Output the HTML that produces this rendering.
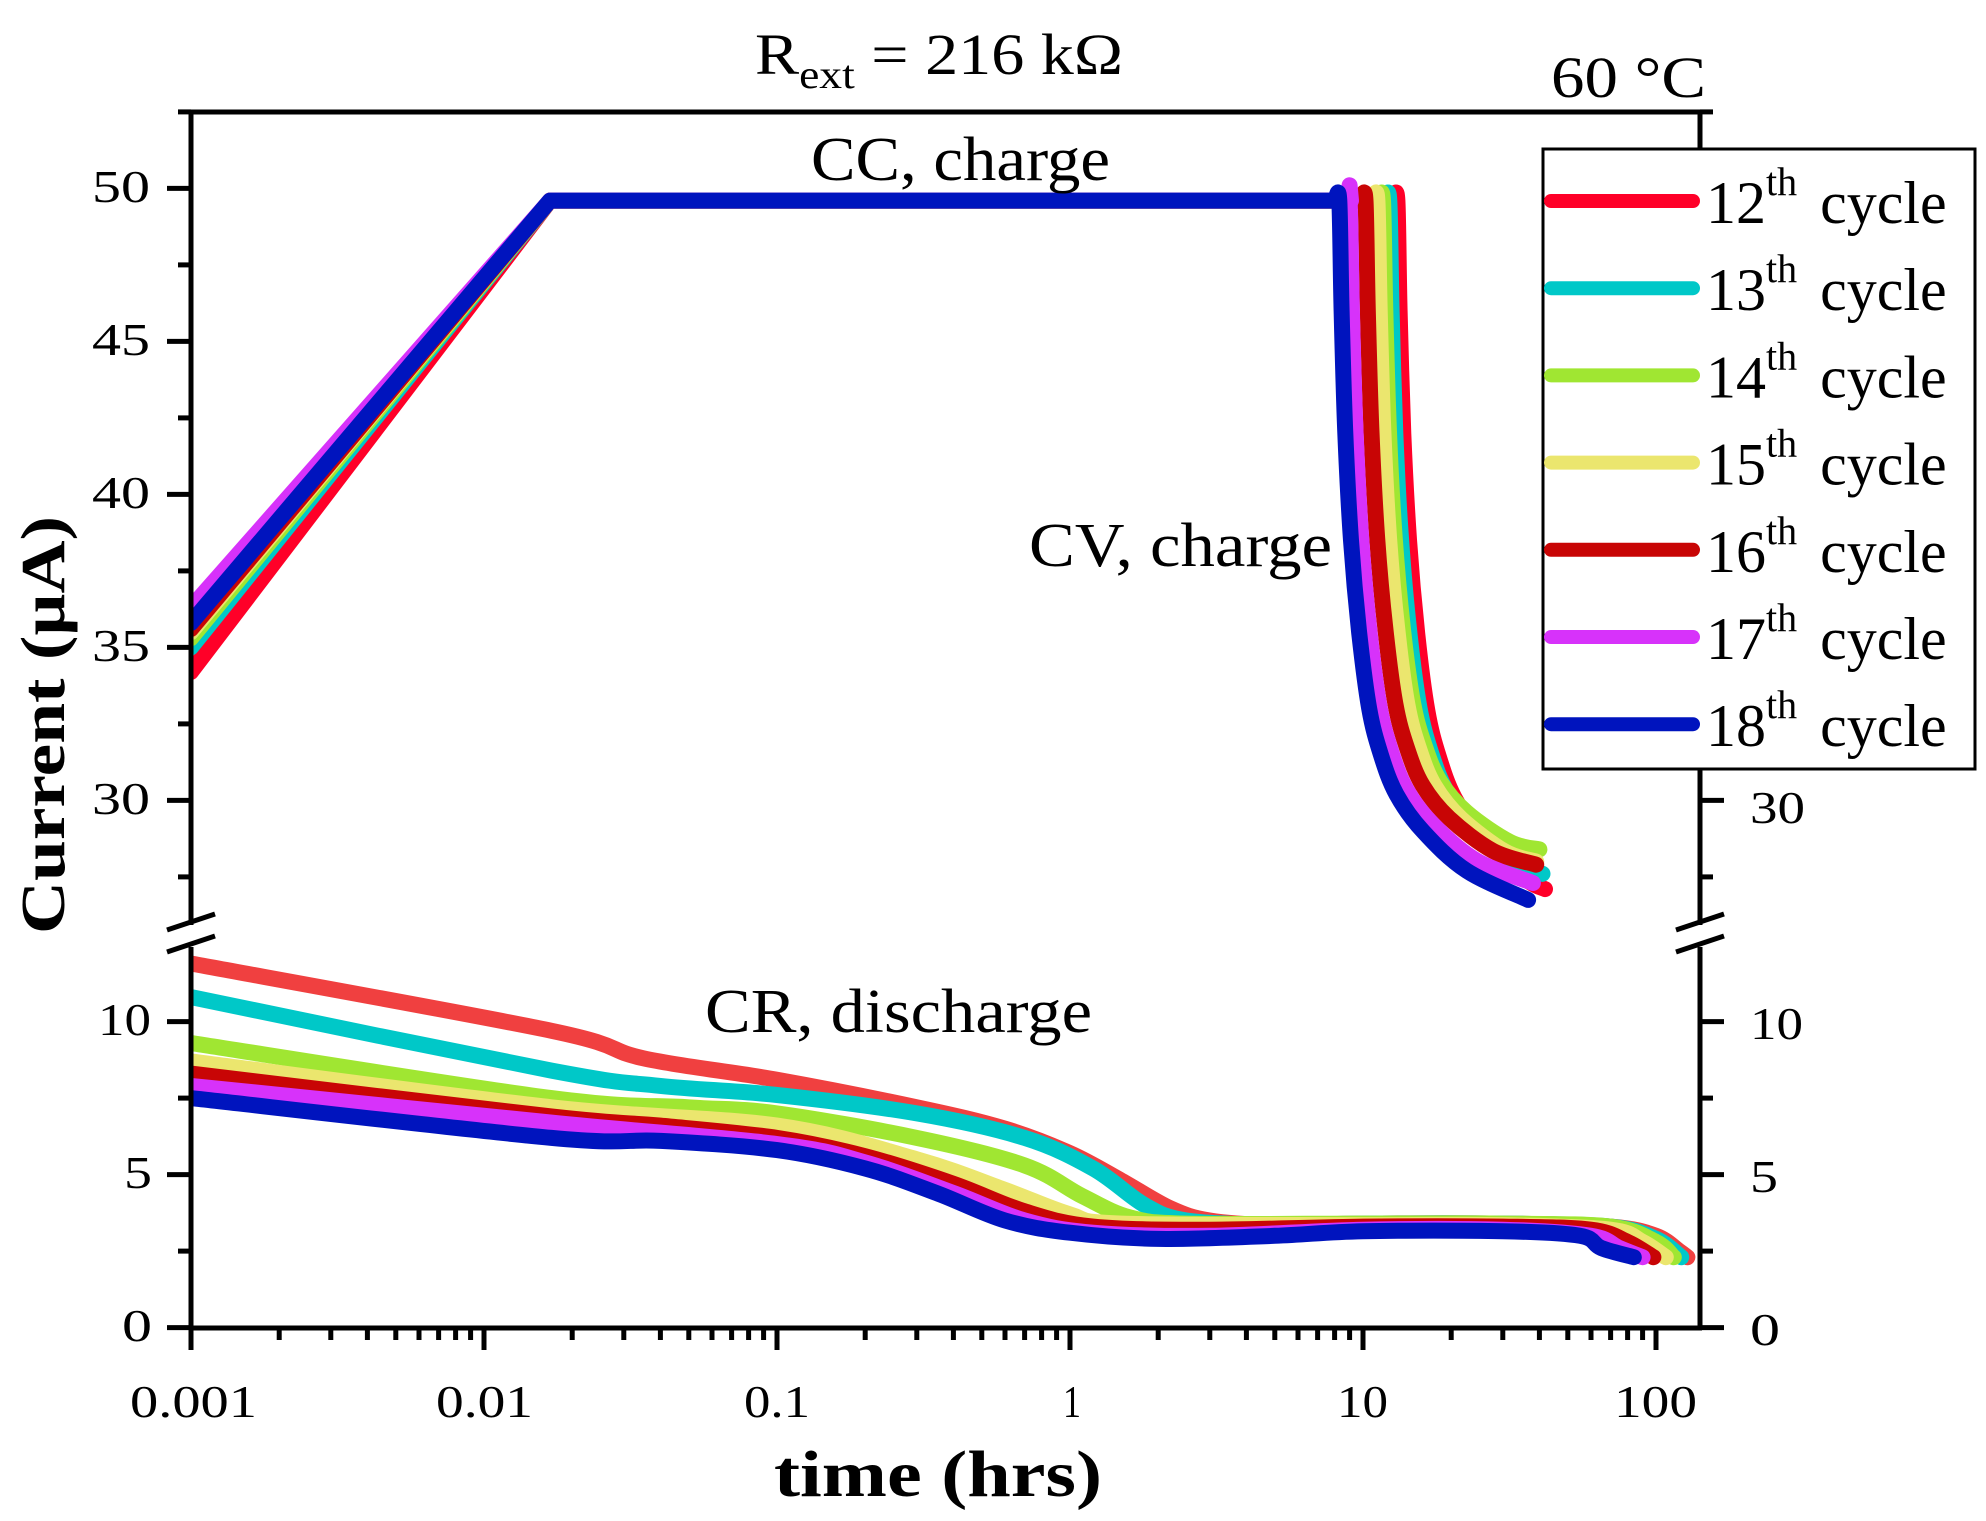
<!DOCTYPE html>
<html><head><meta charset="utf-8"><style>
html,body{margin:0;padding:0;background:#fff;}
svg{display:block;}
text{font-family:"Liberation Serif",serif;fill:#000;}
</style></head><body>
<svg id="s" width="1986" height="1521" viewBox="0 0 1986 1521" xmlns="http://www.w3.org/2000/svg">
<defs>
<clipPath id="cu"><rect x="191" y="112" width="1509" height="813"/></clipPath>
<clipPath id="cl"><rect x="191" y="947" width="1509" height="381"/></clipPath>
</defs>
<g id="curves"></g>
<g stroke="#000" stroke-width="5" fill="none">
<line x1="189" y1="112" x2="1702" y2="112"/>
<line x1="191" y1="110" x2="191" y2="925"/>
<line x1="191" y1="947" x2="191" y2="1330"/>
<line x1="1700" y1="110" x2="1700" y2="925"/>
<line x1="1700" y1="947" x2="1700" y2="1330"/>
<line x1="189" y1="1328" x2="1702" y2="1328"/>
<line x1="167" y1="930" x2="215" y2="914"/>
<line x1="167" y1="952" x2="215" y2="936"/>
<line x1="1676" y1="930" x2="1724" y2="914"/>
<line x1="1676" y1="952" x2="1724" y2="936"/>
</g>
<g id="ticks" stroke="#000" stroke-width="5"></g>
<g font-size="46">
<text x="92" y="202" textLength="58" lengthAdjust="spacingAndGlyphs">50</text>
<text x="92" y="355" textLength="58" lengthAdjust="spacingAndGlyphs">45</text>
<text x="92" y="508" textLength="58" lengthAdjust="spacingAndGlyphs">40</text>
<text x="92" y="661" textLength="58" lengthAdjust="spacingAndGlyphs">35</text>
<text x="92" y="814" textLength="58" lengthAdjust="spacingAndGlyphs">30</text>
<text x="98" y="1035" textLength="53" lengthAdjust="spacingAndGlyphs">10</text>
<text x="124" y="1188" textLength="28" lengthAdjust="spacingAndGlyphs">5</text>
<text x="122" y="1341" textLength="30" lengthAdjust="spacingAndGlyphs">0</text>
<text x="1750" y="823" textLength="55" lengthAdjust="spacingAndGlyphs">30</text>
<text x="1750" y="1039" textLength="53" lengthAdjust="spacingAndGlyphs">10</text>
<text x="1750" y="1192" textLength="28" lengthAdjust="spacingAndGlyphs">5</text>
<text x="1750" y="1345" textLength="30" lengthAdjust="spacingAndGlyphs">0</text>
</g>
<g font-size="46">
<text x="130" y="1417" textLength="127" lengthAdjust="spacingAndGlyphs">0.001</text>
<text x="436" y="1417" textLength="97" lengthAdjust="spacingAndGlyphs">0.01</text>
<text x="744" y="1417" textLength="66" lengthAdjust="spacingAndGlyphs">0.1</text>
<text x="1063" y="1417" textLength="18" lengthAdjust="spacingAndGlyphs">1</text>
<text x="1337" y="1417" textLength="51" lengthAdjust="spacingAndGlyphs">10</text>
<text x="1614" y="1417" textLength="83" lengthAdjust="spacingAndGlyphs">100</text>
</g>
<text x="774" y="1496" font-size="66" font-weight="bold" textLength="328" lengthAdjust="spacingAndGlyphs">time (hrs)</text>
<text transform="translate(64,725) rotate(-90)" font-size="62" font-weight="bold" text-anchor="middle" textLength="418" lengthAdjust="spacingAndGlyphs">Current (µA)</text>
<text x="755" y="74" font-size="58" textLength="368" lengthAdjust="spacingAndGlyphs">R<tspan font-size="40" dy="14">ext</tspan><tspan dy="-14"> = 216 kΩ</tspan></text>
<text x="1551" y="97" font-size="58" textLength="155" lengthAdjust="spacingAndGlyphs">60 °C</text>
<g font-size="62">
<text x="811" y="180" textLength="299" lengthAdjust="spacingAndGlyphs">CC, charge</text>
<text x="1029" y="566" textLength="303" lengthAdjust="spacingAndGlyphs">CV, charge</text>
<text x="705" y="1032" textLength="387" lengthAdjust="spacingAndGlyphs">CR, discharge</text>
</g>
<rect x="1543" y="149" width="432" height="620" fill="#fff" stroke="#000" stroke-width="3"/>
<g id="legend"></g>
</svg>
<script>
var NS="http://www.w3.org/2000/svg";
function X(t){return 191+293*(Math.log10(t)+3);}
function YU(v){return 188.4+(50-v)*30.6;}
function YL(v){return 1327.6-v*30.6;}
function el(tag,a,p){var e=document.createElementNS(NS,tag);for(var k in a)e.setAttribute(k,a[k]);p.appendChild(e);return e;}
var ticks=document.getElementById('ticks');
function yt(y,major){el('line',{x1:major?167:178,y1:y,x2:191,y2:y},ticks);el('line',{x1:1700,y1:y,x2:major?1724:1713,y2:y},ticks);}
[50,45,40,35,30].forEach(function(v){yt(YU(v),true);});
[52.5,47.5,42.5,37.5,32.5,27.5].forEach(function(v){yt(YU(v),false);});
[10,5,0].forEach(function(v){yt(YL(v),true);});
[12.5,7.5,2.5].forEach(function(v){if(YL(v)>947)yt(YL(v),false);});
for(var d=-3;d<=2;d++){var b=Math.pow(10,d);
 el('line',{x1:X(b),y1:1328,x2:X(b),y2:1350},ticks);
 for(var m=2;m<=9;m++){var t=m*b;if(X(t)<1700)el('line',{x1:X(t),y1:1328,x2:X(t),y2:1340},ticks);}}
var cols=["#ff0028","#00c8c8","#a0e632","#ebe66e","#c80505","#d732fa","#0014be"];
var dcols=["#f04040","#00c8c8","#a0e632","#ebe66e","#c80505","#d732fa","#0014be"];
var g=document.getElementById('curves');
var gu=el('g',{'clip-path':'url(#cu)'},g), gl=el('g',{'clip-path':'url(#cl)'},g);
function draw(pts,Y,col,p,smooth){
 var P=pts.map(function(q){return [X(q[0]),Y(q[1])];});
 var d="M"+P[0][0].toFixed(1)+","+P[0][1].toFixed(1);
 for(var i=0;i<P.length-1;i++){
  var p0=P[Math.max(0,i-1)],p1=P[i],p2=P[i+1],p3=P[Math.min(P.length-1,i+2)];
  if(!smooth){d+=" L"+p2[0].toFixed(1)+","+p2[1].toFixed(1);continue;}
  var c1=[p1[0]+(p2[0]-p0[0])/6,p1[1]+(p2[1]-p0[1])/6],c2=[p2[0]-(p3[0]-p1[0])/6,p2[1]-(p3[1]-p1[1])/6];
  d+=" C"+c1[0].toFixed(1)+","+c1[1].toFixed(1)+" "+c2[0].toFixed(1)+","+c2[1].toFixed(1)+" "+p2[0].toFixed(1)+","+p2[1].toFixed(1);
 }
 el('path',{d:d,fill:'none',stroke:col,'stroke-width':16,'stroke-linejoin':'round','stroke-linecap':'round'},p);}
var blue=[[8.3,49.6],[8.45,46],[8.7,42],[9.1,38.5],[9.7,35.5],[10.5,33],[11.5,31.5],[13,30.2],[16,29],[22.6,27.7],[36.6,26.75]];
var start=[34.2,35.0,35.3,35.5,35.6,36.3,35.8];
var t0=[13.1,12.3,11.7,11.2,10.2,9.0,8.3];
var te=[[41.8,27.1],[41,27.6],[40,28.4],[39,28.0],[39,27.9],[38,27.3],[36.6,26.75]];
for(var c=0;c<7;c++){
 var r=t0[c]/8.3;
 var prof=[];
 for(var i=0;i<blue.length;i++){var t=blue[i][0]*r;if(t<te[c][0])prof.push([t,blue[i][1]]);}
 var tb=te[c][0]/r,vb=26.75;
 for(var i=0;i<blue.length-1;i++){if(tb>=blue[i][0]&&tb<=blue[i+1][0]){var f=(Math.log(tb)-Math.log(blue[i][0]))/(Math.log(blue[i+1][0])-Math.log(blue[i][0]));vb=blue[i][1]+f*(blue[i+1][1]-blue[i][1]);}}
 prof.push([te[c][0],vb]);
 var off=te[c][1]-vb, ls=Math.log(prof[0][0]), le=Math.log(te[c][0]);
 var cv=[[prof[0][0]*0.97,49.6]];
 prof.forEach(function(q){var f=(Math.log(q[0])-ls)/(le-ls);cv.push([q[0],q[1]+off*f]);});
 draw([[0.001,start[c]],[0.0168,49.6],[prof[0][0]*0.97,49.6]],YU,cols[c],gu,false);
 draw(cv,YU,cols[c],gu,true);
 if(c==5)draw([[8.9,49.6],[9.0,50.1],[9.1,49.6]],YU,cols[c],gu,false);
}
var D=[
[[0.001,11.9],[0.017,9.7],[0.035,8.8],[0.1,8.1],[0.3,7.2],[0.6,6.5],[1,5.7],[1.5,4.8],[2.2,3.9],[3,3.5],[5,3.35],[10,3.4],[30,3.4],[70,3.3],[100,3.0],[120,2.5],[128,2.3]],
[[0.001,10.8],[0.017,8.4],[0.04,7.9],[0.1,7.6],[0.3,7.0],[0.7,6.2],[1.2,5.2],[1.8,4.0],[2.5,3.5],[5,3.35],[10,3.4],[30,3.4],[70,3.3],[100,2.9],[122,2.3]],
[[0.001,9.3],[0.017,7.5],[0.05,7.2],[0.1,7.0],[0.3,6.2],[0.7,5.3],[1.1,4.3],[1.6,3.6],[2.5,3.4],[10,3.4],[30,3.4],[70,3.3],[100,2.8],[115,2.3]],
[[0.001,8.7],[0.017,7.2],[0.1,6.6],[0.3,5.5],[0.6,4.5],[1,3.7],[1.5,3.4],[10,3.35],[30,3.35],[70,3.2],[90,2.8],[108,2.3]],
[[0.001,8.3],[0.017,6.9],[0.04,6.6],[0.1,6.2],[0.2,5.6],[0.4,4.7],[0.7,3.8],[1.2,3.3],[3,3.2],[10,3.3],[30,3.3],[60,3.2],[80,2.8],[98,2.3]],
[[0.001,7.9],[0.017,6.7],[0.1,6.0],[0.2,5.4],[0.4,4.4],[0.7,3.5],[1.2,3.1],[3,3.0],[10,3.2],[30,3.2],[60,3.0],[75,2.6],[90,2.3]],
[[0.001,7.5],[0.017,6.2],[0.04,6.1],[0.1,5.8],[0.2,5.2],[0.35,4.4],[0.6,3.5],[1,3.1],[2,2.9],[5,3.0],[10,3.15],[30,3.15],[55,3.0],[65,2.6],[84,2.3]]];
for(var c=0;c<7;c++)draw(D[c],YL,dcols[c],gl,true);
var lg=document.getElementById('legend');
var nums=["12","13","14","15","16","17","18"];
for(var c=0;c<7;c++){var y=201+c*87.2;
 el('line',{x1:1551,y1:y,x2:1693,y2:y,stroke:cols[c],'stroke-width':14,'stroke-linecap':'round'},lg);
 var tx=el('text',{x:1706,y:y+22,'font-size':60},lg);
 tx.appendChild(document.createTextNode(nums[c]));
 var ts=el('tspan',{'font-size':40,dy:-28},tx);ts.appendChild(document.createTextNode("th"));
 var t2=el('tspan',{dy:28,dx:8},tx);t2.appendChild(document.createTextNode(" cycle"));
}
</script>
</body></html>
